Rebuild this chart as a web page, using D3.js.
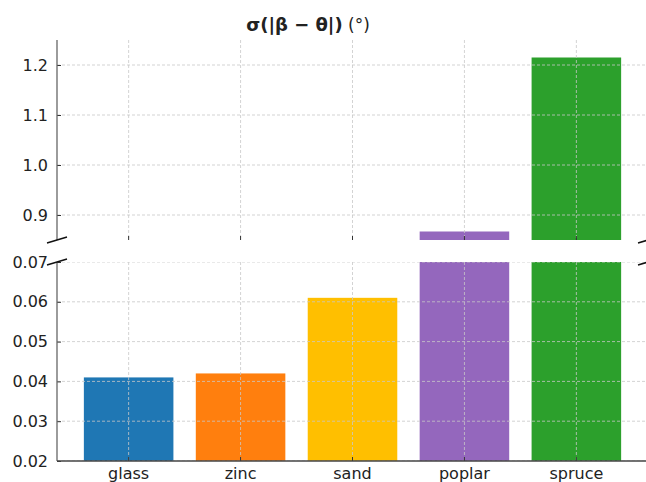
<!DOCTYPE html>
<html>
<head>
<meta charset="utf-8">
<script src="https://cdn.jsdelivr.net/npm/d3@7"></script>
<style>
  body { margin: 0; background: #fff; }
  svg text { font-family: "DejaVu Sans", sans-serif; fill: #222; }
</style>
</head>
<body>
<div id="chart"></div>
<script>
// Data
const categories = ['glass', 'zinc', 'sand', 'poplar', 'spruce'];
const values = [0.041, 0.042, 0.061, 0.867, 1.215];
const colors = ['#1f77b4', '#ff7f0e', '#ffbf00', '#9467bd', '#2ca02c'];
const topTicks = [0.9, 1.0, 1.1, 1.2];
const bottomTicks = [0.02, 0.03, 0.04, 0.05, 0.06, 0.07];

const width = 646, height = 482;
const left = 57, right = 648;
const topPanel = { y0: 40, y1: 240, domain: [0.85, 1.25] };
const botPanel = { y0: 262, y1: 461, domain: [0.02, 0.07] };

const svg = d3.select('#chart').append('svg')
  .attr('width', width)
  .attr('height', height);

// matplotlib style x positions: bars at 0..n-1, width 0.8, 5% margins
const x = d3.scaleLinear()
  .domain([-0.64, categories.length - 1 + 0.64])
  .range([left, right]);
const barW = x(0.8) - x(0);

const yTop = d3.scaleLinear().domain(topPanel.domain).range([topPanel.y1, topPanel.y0]);
const yBot = d3.scaleLinear().domain(botPanel.domain).range([botPanel.y1, botPanel.y0]);

function drawPanel(panel, y, ticks, clipId, fmt) {
  svg.append('clipPath').attr('id', clipId)
    .append('rect')
    .attr('x', left).attr('y', panel.y0)
    .attr('width', right - left).attr('height', panel.y1 - panel.y0);

  const g = svg.append('g').attr('clip-path', `url(#${clipId})`);

  // Bars
  g.selectAll('.bar')
    .data(categories)
    .join('rect')
    .attr('class', 'bar')
    .attr('x', (d, i) => x(i) - barW / 2)
    .attr('width', barW)
    .attr('y', (d, i) => y(values[i]))
    .attr('height', (d, i) => Math.max(0, panel.y1 - y(values[i])))
    .attr('fill', (d, i) => colors[i]);

  // Grid drawn above the bars
  g.selectAll('.hgrid')
    .data(ticks)
    .join('line')
    .attr('x1', left).attr('x2', right)
    .attr('y1', d => y(d)).attr('y2', d => y(d))
    .attr('stroke', '#c8c8c8')
    .attr('stroke-width', 0.8)
    .attr('stroke-dasharray', '3,2');

  g.selectAll('.vgrid')
    .data(categories)
    .join('line')
    .attr('x1', (d, i) => x(i)).attr('x2', (d, i) => x(i))
    .attr('y1', panel.y0).attr('y2', panel.y1)
    .attr('stroke', '#c8c8c8')
    .attr('stroke-width', 0.8)
    .attr('stroke-dasharray', '3,2');

  // Left axis with inward ticks
  const axis = svg.append('g')
    .attr('transform', `translate(${left},0)`)
    .call(d3.axisLeft(y).tickValues(ticks).tickFormat(fmt).tickSizeInner(-4).tickSizeOuter(0).tickPadding(9));
  axis.select('.domain').remove();
  axis.selectAll('.tick line').attr('stroke', '#333');
  axis.selectAll('.tick text').style('font-size', '16px').attr('fill', '#222');

  svg.append('line')
    .attr('x1', left).attr('x2', left)
    .attr('y1', panel.y0).attr('y2', panel.y1)
    .attr('stroke', '#666').attr('stroke-width', 1.3);

  // Inward x ticks at the panel bottom
  svg.selectAll(null)
    .data(categories)
    .join('line')
    .attr('x1', (d, i) => x(i)).attr('x2', (d, i) => x(i))
    .attr('y1', panel.y1).attr('y2', panel.y1 - 4)
    .attr('stroke', '#333');
}

drawPanel(topPanel, yTop, topTicks, 'clipTop', d3.format('.1f'));
drawPanel(botPanel, yBot, bottomTicks, 'clipBot', d3.format('.2f'));

// Bottom spine and category labels
svg.append('line')
  .attr('x1', left).attr('x2', right)
  .attr('y1', botPanel.y1).attr('y2', botPanel.y1)
  .attr('stroke', '#444').attr('stroke-width', 1.3);

svg.selectAll('.xlabel')
  .data(categories)
  .join('text')
  .attr('class', 'xlabel')
  .attr('x', (d, i) => x(i))
  .attr('y', 479)
  .attr('text-anchor', 'middle')
  .style('font-size', '16px')
  .text(d => d);

// Axis break marks
const breaks = [
  [left - 10, topPanel.y1 + 3, left + 10, topPanel.y1 - 3],
  [left - 10, botPanel.y0 + 3, left + 10, botPanel.y0 - 3],
  [right - 10, topPanel.y1 + 3, right + 10, topPanel.y1 - 3],
  [right - 10, botPanel.y0 + 3, right + 10, botPanel.y0 - 3]
];
svg.selectAll('.brk')
  .data(breaks)
  .join('line')
  .attr('x1', d => d[0]).attr('y1', d => d[1])
  .attr('x2', d => d[2]).attr('y2', d => d[3])
  .attr('stroke', '#111').attr('stroke-width', 1.5);

// Title
const title = svg.append('text')
  .attr('x', 308)
  .attr('y', 31)
  .attr('text-anchor', 'middle')
  .style('font-size', '18px');
title.append('tspan').style('font-weight', 'bold').text('σ(|β − θ|)');
title.append('tspan').style('font-size', '17px').text(' (°)');
</script>
</body>
</html>
